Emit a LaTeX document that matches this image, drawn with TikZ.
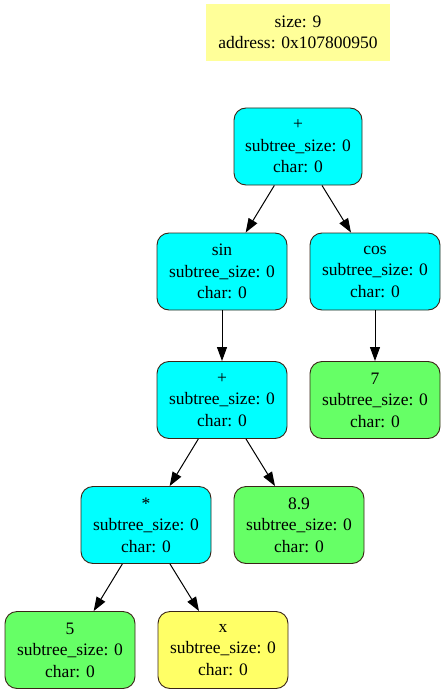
\documentclass[tikz,border=0pt]{standalone}
\usepackage{fontspec}
\setmainfont{Liberation Serif}
\usepackage{xcolor}
\usetikzlibrary{arrows.meta}
\definecolor{opfill}{HTML}{00FFFF}
\definecolor{numfill}{HTML}{66FF66}
\definecolor{varfill}{HTML}{FFFF66}
\definecolor{infofill}{HTML}{FFFF99}
\definecolor{edge}{HTML}{3A2416}
\tikzset{
  treenode/.style={draw=edge, line width=0.9pt, rounded corners=12pt,
    minimum width=130pt, minimum height=77pt, align=center,
    font=\fontsize{17.5}{21.5}\selectfont, inner sep=0pt},
  opnode/.style={treenode, fill=opfill},
  numnode/.style={treenode, fill=numfill},
  varnode/.style={treenode, fill=varfill},
  infobox/.style={fill=infofill, minimum width=184pt, minimum height=57pt,
    align=center, font=\fontsize{17.5}{21.5}\selectfont, inner sep=0pt},
  link/.style={draw=black, line width=1pt, -{Triangle[length=14pt,width=10pt]}},
}
\begin{document}
\begin{tikzpicture}[x=1pt,y=-1pt]
  \useasboundingbox (0,0) rectangle (445,695);

  \node[infobox] (info) at (298,32.5) {size: 9\\address: 0x107800950};

  \node[opnode,minimum width=128pt] (plusA) at (298,146.5) {+\\subtree\_size: 0\\char: 0};
  \node[opnode] (sin) at (222,271.5) {sin\\subtree\_size: 0\\char: 0};
  \node[opnode] (cos) at (375,271.5) {cos\\subtree\_size: 0\\char: 0};
  \node[opnode] (plusB) at (222,400) {+\\subtree\_size: 0\\char: 0};
  \node[numnode] (seven) at (375,400) {7\\subtree\_size: 0\\char: 0};
  \node[opnode] (mul) at (146,525) {*\\subtree\_size: 0\\char: 0};
  \node[numnode] (eightnine) at (299,525) {8.9\\subtree\_size: 0\\char: 0};
  \node[numnode] (five) at (70,650) {5\\subtree\_size: 0\\char: 0};
  \node[varnode] (varx) at (223,650) {x\\subtree\_size: 0\\char: 0};

  \draw[link] (plusA) -- (sin);
  \draw[link] (plusA) -- (cos);
  \draw[link] (sin) -- (plusB);
  \draw[link] (cos) -- (seven);
  \draw[link] (plusB) -- (mul);
  \draw[link] (plusB) -- (eightnine);
  \draw[link] (mul) -- (five);
  \draw[link] (mul) -- (varx);
\end{tikzpicture}
\end{document}
